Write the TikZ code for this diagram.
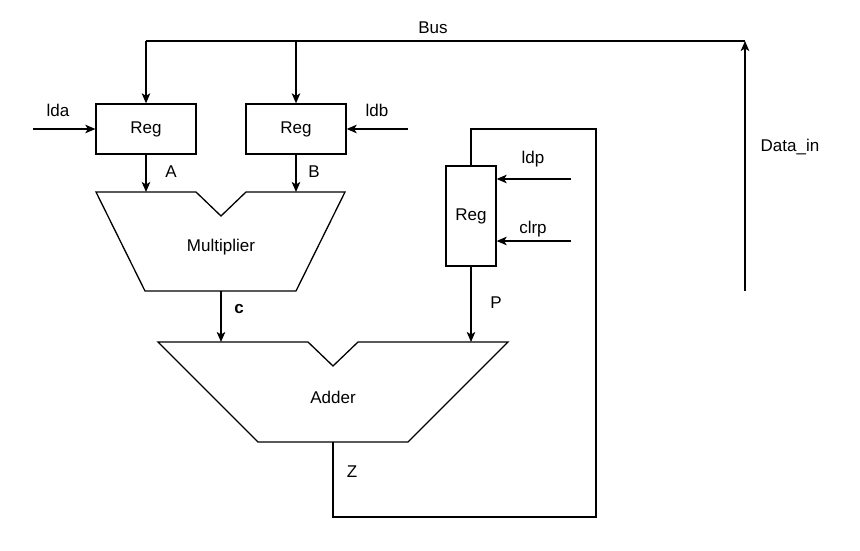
\documentclass[tikz,border=0pt]{standalone}
\usepackage{fontspec}
\setmainfont{Liberation Sans}
\usetikzlibrary{arrows.meta}
\begin{document}
\begin{tikzpicture}[x=1pt,y=-1pt,line width=1.3pt,
    >={Stealth[length=10pt,width=8.5pt,inset=2.5pt]},
    font=\fontsize{17}{20}\selectfont,
    reg/.style={draw,minimum width=100pt,minimum height=50pt,inner sep=0pt},
    lbl/.style={inner sep=0pt}]
    \useasboundingbox (0,0) rectangle (860,551);

    % Registers
    \node[reg] (rega) at (146,129) {Reg};
    \node[reg] (regb) at (296,129) {Reg};
    \node[reg,minimum width=50pt,minimum height=100pt] (regp) at (471,216) {Reg};

    % Bus and Data_in
    \coordinate (busl) at (146,41);
    \coordinate (busm) at (296,41);
    \coordinate (busr) at (745,41);
    \coordinate (din) at (745,291);
    \draw (busl) -- (busr);
    \draw[->] (busl) -- (rega.north);
    \draw[->] (busm) -- (regb.north);
    \draw[->] (din) -- (busr);
    \node[lbl] (buslbl) at (433,28) {Bus};
    \node[lbl] (dinlbl) at (790,147) {Data\_in};

    % Load / clear inputs
    \coordinate (lda) at (33,129);
    \coordinate (ldb) at (408,129);
    \coordinate (ldp) at (571,179);
    \coordinate (clrp) at (571,241);
    \draw[->] (lda) -- (rega.west);
    \draw[->] (ldb) -- (regb.east);
    \draw[->] (ldp) -- (ldp -| regp.east);
    \draw[->] (clrp) -- (clrp -| regp.east);
    \node[lbl] (ldalbl) at (58,110) {lda};
    \node[lbl] (ldblbl) at (377,110) {ldb};
    \node[lbl] (ldplbl) at (533,159) {ldp};
    \node[lbl] (clrplbl) at (533,229) {clrp};

    % Multiplier
    \draw (96,192) -- (196,192) -- (221,216) -- (246,192) -- (345,192)
        -- (296,291) -- (145,291) -- cycle;
    \node (mul) at (221,247) {Multiplier};
    \coordinate (mula) at (146,192);
    \coordinate (mulb) at (296,192);
    \coordinate (mulout) at (221,291);
    \draw[->] (rega.south) -- (mula);
    \draw[->] (regb.south) -- (mulb);
    \node[lbl] (albl) at (171,172) {A};
    \node[lbl] (blbl) at (314,172) {B};

    % Adder
    \draw (158,342) -- (308,342) -- (333,366) -- (358,342) -- (508,342)
        -- (408,442) -- (258,442) -- cycle;
    \node (add) at (333,397) {Adder};
    \coordinate (adda) at (221,342);
    \coordinate (addb) at (471,342);
    \coordinate (addout) at (333,442);
    \draw[->] (mulout) -- (adda);
    \draw[->] (regp.south) -- (addb);
    \node[lbl] (clbl) at (239,309) {\textbf{c}};
    \node[lbl] (plbl) at (496,303) {P};

    % Feedback Z
    \coordinate (zr) at (596,517);
    \coordinate (ztop) at (596,129);
    \draw (addout) |- (zr) -- (ztop) -| (regp.north);
    \node[lbl] (zlbl) at (352,472) {Z};
\end{tikzpicture}
\end{document}
